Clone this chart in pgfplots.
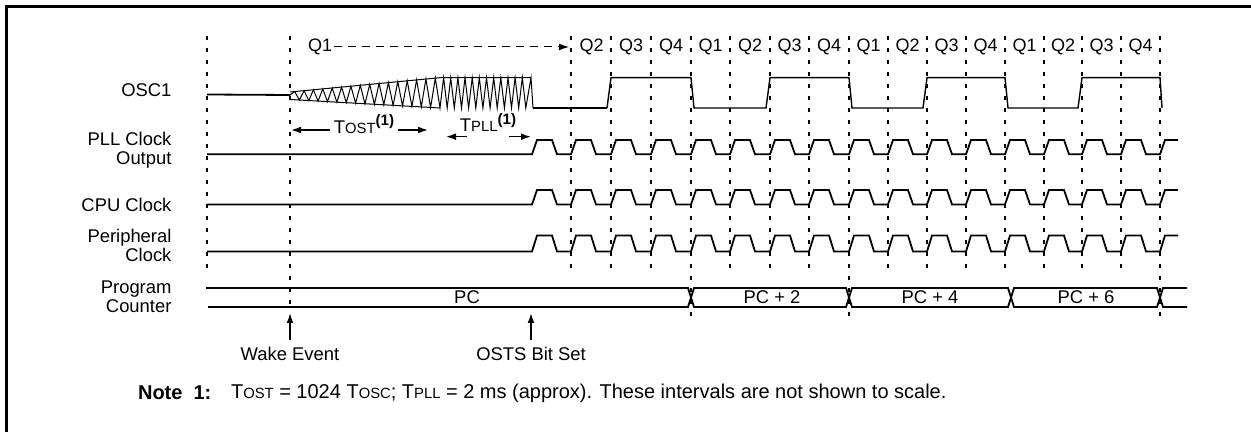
\documentclass[border=0pt]{standalone}
\usepackage{fontspec}
\setmainfont{Liberation Sans}
\usepackage{pgfplots}
\pgfplotsset{compat=1.18}
\usepackage{pgfplotstable}
\usetikzlibrary{arrows.meta}

% one unit = one pixel of the 1251x432 reference, y grows downwards
\newcommand\smc[1]{{\fontsize{7.4}{8}\selectfont #1}}
\newcommand\fn{\raisebox{0.4em}{\fontsize{7.6}{8}\selectfont\bfseries (1)}}
\tikzset{lab/.style={font=\fontsize{9.2}{9.3}\selectfont},
  ql/.style={font=\fontsize{9}{10}\selectfont},
  nt/.style={font=\fontsize{10}{11}\selectfont}}

% clock waveform: x position, level (0 low, 1 high)
\pgfplotstableread{
x v
207 0
532 0
537 1
552 1
557 0
571 0
576 1
591 1
596 0
611 0
616 1
631 1
636 0
651 0
656 1
671 1
676 0
691 0
696 1
711 1
716 0
730 0
735 1
750 1
755 0
770 0
775 1
790 1
795 0
809 0
814 1
829 1
834 0
849 0
854 1
869 1
874 0
888 0
893 1
908 1
913 0
927 0
932 1
947 1
952 0
966 0
971 1
986 1
991 0
1005 0
1010 1
1025 1
1030 0
1044 0
1049 1
1064 1
1069 0
1082 0
1087 1
1102 1
1107 0
1121 0
1126 1
1141 1
1146 0
1160 0
1165 1
1178 1
}\clk

\begin{document}
\begin{tikzpicture}
\begin{axis}[scale only axis, width=625.5pt, height=216pt,
  xmin=0, xmax=1251, ymin=0, ymax=432, y dir=reverse,
  hide axis, clip=false,
  vline/.style={black, line width=0.9pt, dash pattern=on 2.2pt off 3.8pt},
  sig/.style={black, line width=0.9pt},
  arr/.style={black, line width=0.7pt, -{Latex[length=5pt,width=3.4pt]}}]

% frame
\addplot[black, line width=1.1pt] coordinates {(6.5,432) (6.5,6.5) (1251,6.5)};

% vertical dashed guides
\addplot[vline] coordinates {(207,36) (207,272)};
\addplot[vline] coordinates {(290,36) (290,310)};
\addplot[vline] coordinates {(571,36) (571,272)};
\addplot[vline] coordinates {(611,36) (611,272)};
\addplot[vline] coordinates {(651,36) (651,272)};
\addplot[vline] coordinates {(691,36) (691,318)};
\addplot[vline] coordinates {(730,36) (730,272)};
\addplot[vline] coordinates {(770,36) (770,272)};
\addplot[vline] coordinates {(809,36) (809,272)};
\addplot[vline] coordinates {(849,36) (849,318)};
\addplot[vline] coordinates {(888,36) (888,272)};
\addplot[vline] coordinates {(927,36) (927,272)};
\addplot[vline] coordinates {(966,36) (966,272)};
\addplot[vline] coordinates {(1005,36) (1005,272)};
\addplot[vline] coordinates {(1044,36) (1044,272)};
\addplot[vline] coordinates {(1082,36) (1082,272)};
\addplot[vline] coordinates {(1121,36) (1121,272)};
\addplot[vline] coordinates {(1160,36) (1160,318)};

% Q labels
\node[ql] at (320,46.5) {Q1};
\addplot[black, line width=0.5pt, dash pattern=on 4pt off 3pt,
  -{Latex[length=5pt,width=3.4pt]}] coordinates {(334,47) (569,47)};
\node[ql] at (591.5,46.5) {Q2};
\node[ql] at (631,46.5) {Q3};
\node[ql] at (671,46.5) {Q4};
\node[ql] at (710.5,46.5) {Q1};
\node[ql] at (750,46.5) {Q2};
\node[ql] at (789.5,46.5) {Q3};
\node[ql] at (829,46.5) {Q4};
\node[ql] at (868.5,46.5) {Q1};
\node[ql] at (907.5,46.5) {Q2};
\node[ql] at (946.5,46.5) {Q3};
\node[ql] at (985.5,46.5) {Q4};
\node[ql] at (1024.5,46.5) {Q1};
\node[ql] at (1063,46.5) {Q2};
\node[ql] at (1101.5,46.5) {Q3};
\node[ql] at (1140.5,46.5) {Q4};

% signal names
\node[lab, anchor=east] at (178.5,90) {OSC1};
\node[lab, anchor=east, align=right] at (178.5,150.5) {PLL Clock\\Output};
\node[lab, anchor=east] at (178.5,204.5) {CPU Clock};
\node[lab, anchor=east, align=right] at (178.5,245.5) {Peripheral\\Clock};
\node[lab, anchor=east, align=right] at (178.5,297) {Program\\Counter};

% OSC1: idle, start-up oscillation, then square wave
\addplot[sig] coordinates {(207,94.5) (290,95)};
\addplot[black, line width=0.5pt] coordinates {(290,92) (440,77.7) (531,77.7)};
\addplot[black, line width=0.5pt] coordinates {(290,99.5) (440,108)};
\addplot[black, line width=0.5pt] coordinates {
(290,95) (294.7,91.6) (299.4,100.0) (304.1,90.7) (308.8,100.6) (313.4,89.8)
(318.1,101.1) (322.8,88.9) (327.5,101.6) (332.2,88.0) (336.9,102.2) (341.6,87.1)
(346.3,102.7) (350.9,86.2) (355.6,103.2) (360.3,85.3) (365.0,103.8) (369.7,84.4)
(374.4,104.3) (379.1,83.5) (383.8,104.8) (388.4,82.6) (393.1,105.3) (397.8,81.7)
(402.5,105.9) (407.2,80.8) (411.9,106.4) (416.6,79.9) (421.3,106.9) (425.9,79.0)
(430.6,107.5) (435.3,78.1) (440.0,108)
(443.6,77.7) (447.2,108) (450.7,77.7) (454.3,108) (457.9,77.7) (461.5,108)
(465.0,77.7) (468.6,108) (472.2,77.7) (475.8,108) (479.3,77.7) (482.9,108)
(486.5,77.7) (490.1,108) (493.7,77.7) (497.2,108) (500.8,77.7) (504.4,108)
(508.0,77.7) (511.5,108) (515.1,77.7) (518.7,108) (522.3,77.7) (525.8,108)
(531.0,77.7) (533.0,108)};
\addplot[sig] coordinates {(533,108) (607,108)};
\addplot[black, line width=0.7pt] coordinates {
(607,108) (611,77.7) (691,77.7) (694,108) (766,108) (770,77.7) (849,77.7)
(852,108) (923,108) (927,77.7) (1005,77.7) (1008,108) (1078,108)
(1082,77.7) (1160,77.7) (1162,108)};

% start-up intervals
\node[lab] at (364,124) {T\smc{OST}\fn};
\addplot[arr] coordinates {(330,130) (291,130)};
\addplot[arr] coordinates {(398,130) (428,130)};
\node[lab] at (488,122.5) {T\smc{PLL}\fn};
\addplot[arr] coordinates {(467,136.7) (446,136.7)};
\addplot[arr] coordinates {(509,136.7) (531,136.7)};

% clocks
\addplot[sig] table[x=x, y expr={154.3-14.3*\thisrow{v}}] {\clk};
\addplot[sig] table[x=x, y expr={204.5-14.5*\thisrow{v}}] {\clk};
\addplot[sig] table[x=x, y expr={251.5-16*\thisrow{v}}] {\clk};

% program counter bus
\addplot[sig] coordinates {(206,288) (688,288) (694,307) (846,307) (852,288)
  (1008,288) (1014,307) (1157,307) (1163,288) (1187,288)};
\addplot[sig] coordinates {(208,307) (688,307) (694,288) (846,288) (852,307)
  (1008,307) (1014,288) (1157,288) (1163,307) (1187,307)};
\node[lab] at (467,297) {PC};
\node[lab] at (772,297) {PC + 2};
\node[lab] at (930,297) {PC + 4};
\node[lab] at (1086,297) {PC + 6};

% events
\addplot[arr] coordinates {(290,340) (290,313)};
\node[lab] at (290,354) {Wake Event};
\addplot[arr] coordinates {(531,340) (531,313)};
\node[lab] at (531,354) {OSTS Bit Set};

% note
\node[nt, anchor=west] at (131,393) {\textbf{Note\ \ 1:}};
\node[nt, anchor=west] at (224,393) {T\smc{OST} = 1024 T\smc{OSC}; T\smc{PLL} = 2 ms (approx). These intervals are not shown to scale.};
\end{axis}
\pgfresetboundingbox
\path[use as bounding box] (current axis.south west) rectangle (current axis.north east);
\end{tikzpicture}
\end{document}
